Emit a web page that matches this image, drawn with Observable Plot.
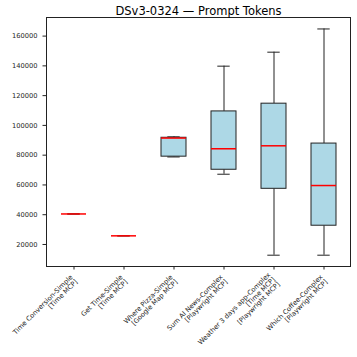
<!DOCTYPE html>
<html><head><meta charset="utf-8">
<script src="https://cdn.jsdelivr.net/npm/d3@7"></script>
<script src="https://cdn.jsdelivr.net/npm/@observablehq/plot@0.6"></script>
<style>body{margin:0;background:#fff}</style>
</head><body><div id="chart"></div>
<script>
const title = "DSv3-0324 — Prompt Tokens";
const categories = [
  "Time Conversion-Simple\n[Time MCP]",
  "Get Time-Simple\n[Time MCP]",
  "Where Pizza-Simple\n[Google Map MCP]",
  "Sum AI News-Complex\n[Playwright MCP]",
  "Weather 3 days app-Complex\n[Time MCP]\n[Playwright MCP]",
  "Which Coffee-Complex\n[Playwright MCP]"
];
const lo  = [40500, 25800, 78800,  67200,  12800,  12800];
const q1  = [40500, 25800, 79000,  70200,  57400,  32600];
const med = [40500, 25800, 91500,  84300,  86300,  59600];
const q3  = [40500, 25800, 91700, 109400, 114600,  87800];
const hi  = [40500, 25800, 92300, 139800, 149200, 164800];
const yTicks = [20000, 40000, 60000, 80000, 100000, 120000, 140000, 160000];

const rows = categories.map((c, i) => ({cat: c, lo: lo[i], q1: q1[i], med: med[i], q3: q3[i], hi: hi[i]}));
const ink = "#222";
const plot = Plot.plot({
  width: 357, height: 357,
  marginTop: 17, marginBottom: 91, marginLeft: 46, marginRight: 7,
  style: {fontFamily: "DejaVu Sans", fontSize: "6.7px", background: "white", color: ink},
  x: {domain: categories, paddingInner: 0.5, paddingOuter: 0.25, label: null},
  y: {domain: [5200, 172500], label: null},
  marks: [
    Plot.ruleX(rows, {x: "cat", y1: "lo", y2: "q1", stroke: ink, strokeWidth: 1}),
    Plot.ruleX(rows, {x: "cat", y1: "q3", y2: "hi", stroke: ink, strokeWidth: 1}),
    Plot.tickY(rows, {x: "cat", y: "lo", stroke: ink, insetLeft: 6.3, insetRight: 6.3}),
    Plot.tickY(rows, {x: "cat", y: "hi", stroke: ink, insetLeft: 6.3, insetRight: 6.3}),
    Plot.barY(rows, {x: "cat", y1: "q1", y2: "q3", fill: "lightblue", stroke: ink, strokeWidth: 1}),
    Plot.tickY(rows, {x: "cat", y: "med", stroke: "red", strokeWidth: 1.5}),
    Plot.frame({stroke: ink}),
    Plot.axisY({ticks: yTicks, tickFormat: d => String(d), tickSize: 3.5, label: null}),
    Plot.axisX({tickRotate: -45, tickSize: 3.5, label: null}),
    Plot.text([title], {text: d => d, frameAnchor: "top", dy: -3, lineAnchor: "bottom", fontSize: 11.5, fill: "#000"})
  ]
});
document.getElementById("chart").append(plot);
</script>
</body></html>
